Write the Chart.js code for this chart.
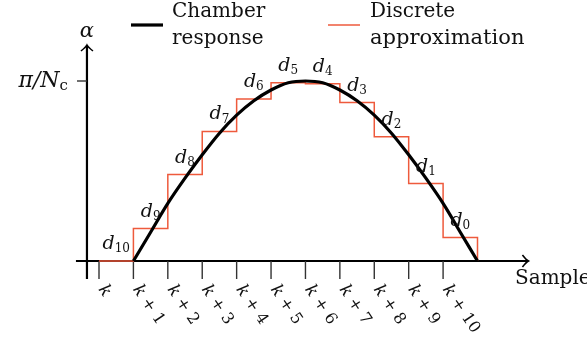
<!DOCTYPE html>
<html>
<head>
<meta charset="utf-8">
<script src="https://cdn.jsdelivr.net/npm/chart.js@4"></script>
<style>
  html, body { margin: 0; padding: 0; background: #fff; }
  #wrap { width: 587px; height: 341px; }
</style>
</head>
<body>
<div id="wrap"><canvas id="chart" width="587" height="341"></canvas></div>
<script>
// sample ticks: k, k + 1, ... k + 10
const tickLabels = ['k', 'k + 1', 'k + 2', 'k + 3', 'k + 4', 'k + 5',
  'k + 6', 'k + 7', 'k + 8', 'k + 9', 'k + 10'];

// discrete approximation, one value per sample (k .. k+10), in units of pi/Nc
const stepValues = [0, 0.18, 0.48, 0.72, 0.90, 0.99, 0.985, 0.88, 0.69, 0.43, 0.13];
const stepNames = ['10', '9', '8', '7', '6', '5', '4', '3', '2', '1', '0'];

// chamber response
const curveX = [1, 1.5, 2, 2.5, 3, 3.5, 4, 4.5, 5, 5.5, 6, 6.5, 7, 7.5, 8, 8.5, 9, 9.5, 10, 10.5, 11];
const curveY = [0, 0.16, 0.32, 0.46, 0.59, 0.71, 0.81, 0.89, 0.95, 0.99, 1.0,
  0.99, 0.95, 0.89, 0.81, 0.71, 0.59, 0.46, 0.32, 0.16, 0];

const SERIF = '"DejaVu Serif", serif';
const RED = '#ee5a3c';

const curveData = curveX.map((x, i) => ({ x: x, y: curveY[i] }));
const stepData = stepValues.map((v, i) => ({ x: i, y: v }));
stepData.push({ x: stepValues.length, y: 0 });

// draw a run of text pieces, [text, font, dy]
function drawPieces(ctx, x, y, pieces, align) {
  let total = 0;
  pieces.forEach(p => { ctx.font = p[1]; total += ctx.measureText(p[0]).width; });
  let cx = align === 'right' ? x - total : align === 'center' ? x - total / 2 : x;
  pieces.forEach(p => {
    ctx.font = p[1];
    ctx.fillText(p[0], cx, y + (p[2] || 0));
    cx += ctx.measureText(p[0]).width;
  });
}

const drawing = {
  id: 'drawing',
  beforeDatasetsDraw(chart) {
    const ctx = chart.ctx;
    const xs = chart.scales.x, ys = chart.scales.y;
    const y0 = ys.getPixelForValue(0);
    const yAxisX = xs.getPixelForValue(-0.35);
    const xEnd = xs.getPixelForValue(12.48);
    const yTop = ys.getPixelForValue(1.2);
    ctx.save();
    ctx.strokeStyle = '#000';
    ctx.lineCap = 'butt';
    // x axis
    ctx.lineWidth = 2.2;
    ctx.beginPath();
    ctx.moveTo(xs.getPixelForValue(-0.67), y0);
    ctx.lineTo(xEnd, y0);
    ctx.stroke();
    ctx.lineWidth = 1.6;
    ctx.beginPath();
    ctx.moveTo(xEnd - 6, y0 - 6);
    ctx.quadraticCurveTo(xEnd - 2, y0 - 1, xEnd, y0);
    ctx.quadraticCurveTo(xEnd - 2, y0 + 1, xEnd - 6, y0 + 6);
    ctx.stroke();
    // y axis
    ctx.lineWidth = 2.2;
    ctx.beginPath();
    ctx.moveTo(yAxisX, y0 + 18);
    ctx.lineTo(yAxisX, yTop);
    ctx.stroke();
    ctx.lineWidth = 1.6;
    ctx.beginPath();
    ctx.moveTo(yAxisX - 6, yTop + 6);
    ctx.quadraticCurveTo(yAxisX - 1, yTop + 2, yAxisX, yTop);
    ctx.quadraticCurveTo(yAxisX + 1, yTop + 2, yAxisX + 6, yTop + 6);
    ctx.stroke();
    // sample ticks
    ctx.lineWidth = 1.4;
    ctx.strokeStyle = '#333';
    tickLabels.forEach((t, i) => {
      const px = xs.getPixelForValue(i);
      ctx.beginPath();
      ctx.moveTo(px, y0);
      ctx.lineTo(px, y0 + 18);
      ctx.stroke();
    });
    // pi/Nc tick
    const y1 = ys.getPixelForValue(1);
    ctx.beginPath();
    ctx.moveTo(yAxisX - 10, y1);
    ctx.lineTo(yAxisX, y1);
    ctx.stroke();
    ctx.restore();
  },
  afterDraw(chart) {
    const ctx = chart.ctx;
    const xs = chart.scales.x, ys = chart.scales.y;
    const y0 = ys.getPixelForValue(0);
    const yAxisX = xs.getPixelForValue(-0.35);
    ctx.save();
    ctx.fillStyle = '#111';
    ctx.textBaseline = 'middle';

    // rotated sample labels
    tickLabels.forEach((t, i) => {
      const px = xs.getPixelForValue(i);
      ctx.save();
      ctx.translate(px + 5, y0 + 29);
      ctx.rotate(56 * Math.PI / 180);
      drawPieces(ctx, -4, 0, [
        ['k', 'italic 17px ' + SERIF],
        [t.slice(1), '16px ' + SERIF]
      ], 'left');
      ctx.restore();
    });

    // d labels above each step
    stepValues.forEach((v, i) => {
      const px = xs.getPixelForValue(i + 0.5);
      const py = ys.getPixelForValue(v) - 16;
      drawPieces(ctx, px, py, [
        ['d', 'italic 19px ' + SERIF, -1],
        [stepNames[i], '12px ' + SERIF, 4]
      ], 'center');
    });

    // y axis labels
    drawPieces(ctx, yAxisX, 32, [['\u03b1', 'italic 21px ' + SERIF]], 'center');
    drawPieces(ctx, yAxisX - 19, ys.getPixelForValue(1), [
      ['\u03c0', 'italic 22px ' + SERIF],
      ['/', 'italic 22px ' + SERIF],
      ['N', 'italic 22px ' + SERIF],
      ['c', '15px ' + SERIF, 5]
    ], 'right');
    // x axis label
    drawPieces(ctx, 515, y0 + 18, [['Sample', '20px ' + SERIF]], 'left');

    // legend
    ctx.lineCap = 'butt';
    ctx.strokeStyle = '#000';
    ctx.lineWidth = 3.2;
    ctx.beginPath(); ctx.moveTo(131, 25); ctx.lineTo(163, 25); ctx.stroke();
    ctx.strokeStyle = RED;
    ctx.lineWidth = 1.5;
    ctx.beginPath(); ctx.moveTo(328, 25); ctx.lineTo(360, 25); ctx.stroke();
    drawPieces(ctx, 172, 12, [['Chamber', '20px ' + SERIF]], 'left');
    drawPieces(ctx, 172, 39, [['response', '20px ' + SERIF]], 'left');
    drawPieces(ctx, 370, 12, [['Discrete', '20px ' + SERIF]], 'left');
    drawPieces(ctx, 370, 39, [['approximation', '21px ' + SERIF]], 'left');
    ctx.restore();
  }
};

new Chart(document.getElementById('chart').getContext('2d'), {
  type: 'line',
  data: {
    datasets: [{
      label: 'Chamber response',
      data: curveData,
      borderColor: '#000',
      borderWidth: 3.2,
      pointRadius: 0,
      cubicInterpolationMode: 'monotone',
      fill: false,
      clip: false,
      order: 0
    }, {
      label: 'Discrete approximation',
      data: stepData,
      borderColor: RED,
      borderWidth: 1.5,
      pointRadius: 0,
      stepped: 'before',
      fill: false,
      clip: false,
      order: 1
    }]
  },
  options: {
    responsive: false,
    animation: false,
    devicePixelRatio: 1,
    layout: { padding: { left: 99, right: 109.5, top: 81, bottom: 80 } },
    plugins: { legend: { display: false }, tooltip: { enabled: false } },
    scales: {
      x: { type: 'linear', min: 0, max: 11, display: false },
      y: { min: 0, max: 1, display: false }
    }
  },
  plugins: [drawing]
});
</script>
</body>
</html>
